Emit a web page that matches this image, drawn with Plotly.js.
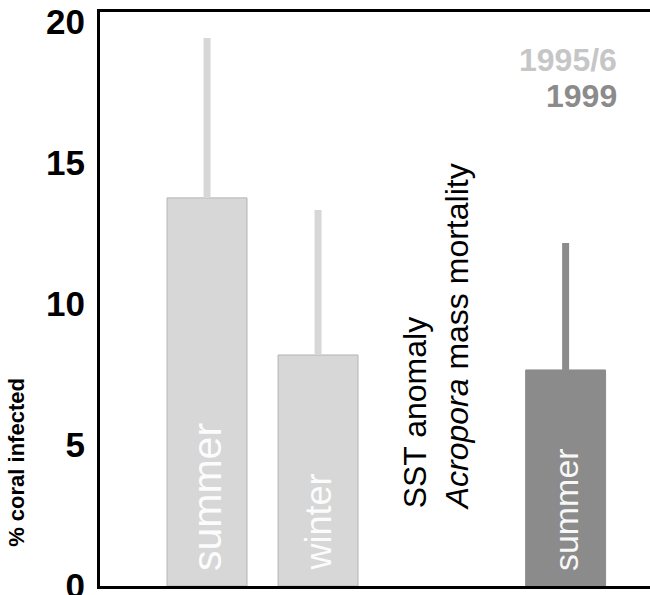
<!DOCTYPE html>
<html><head><meta charset="utf-8">
<script src="https://cdn.plot.ly/plotly-3.0.1.min.js"></script>
<style>html,body{margin:0;padding:0;background:#fff}#chart{width:650px;height:595px}</style>
</head><body><div id="chart"></div>
<script>
// ---- data ----
const periods = ["1995/6", "1995/6", "1999"];
const seasons = ["summer", "winter", "summer"];
const meanInfected = [13.76, 8.19, 7.66];
const errorUpper = [5.67, 5.14, 4.50];
const yTicks = [0, 5, 10, 15, 20];
const seriesNames = ["1995/6", "1999"];
const eventNote = ["SST anomaly", "<i>Acropora</i> mass mortality"];
const yTitle = "% coral infected";

// ---- layout helpers (not data) ----
const slot = [1, 2, 4.23];
const seasonFontSize = [41, 36, 34];
const seriesColor = {"1995/6": "#d7d7d7", "1999": "#8b8b8b"};
const seriesLine = {"1995/6": "#b4b4b4", "1999": "#8b8b8b"};
const seriesText = {"1995/6": "#c6c6c6", "1999": "#8b8b8b"};
const FONT = "Liberation Sans, Arial, Helvetica, sans-serif";

const traces = seriesNames.map(name => {
  const idx = periods.map((p, i) => p === name ? i : -1).filter(i => i >= 0);
  return {
    type: "bar",
    name: name,
    x: idx.map(i => slot[i]),
    y: idx.map(i => meanInfected[i]),
    width: 0.72,
    marker: {color: seriesColor[name], line: {color: seriesLine[name], width: 1}},
    error_y: {type: "data", symmetric: false, array: idx.map(i => errorUpper[i]),
              arrayminus: idx.map(() => 0), width: 0, thickness: 7, color: seriesColor[name]},
    hoverinfo: "skip",
    showlegend: false
  };
});

const annotations = [];
seasons.forEach((s, i) => {
  annotations.push({
    text: s, x: slot[i], y: 0, xref: "x", yref: "y",
    xanchor: "center", yanchor: "bottom", yshift: 13, textangle: -90,
    showarrow: false, font: {family: FONT, size: seasonFontSize[i], color: "rgba(255,255,255,0.95)"}
  });
});
annotations.push({
  text: eventNote.join("<br>"), x: 3.06, y: 2.62, xref: "x", yref: "y",
  xanchor: "center", yanchor: "bottom", textangle: -90, align: "left",
  showarrow: false, font: {family: FONT, size: 32, color: "#000"}
});
annotations.push({
  text: yTitle, xref: "paper", yref: "y", x: -0.151, y: 4.4,
  xanchor: "center", yanchor: "middle", textangle: -90, showarrow: false,
  font: {family: FONT, size: 22, weight: "bold", color: "#000"}
});
const legendY = [0.916, 0.853];
seriesNames.forEach((n, k) => {
  annotations.push({
    text: n, xref: "paper", yref: "paper", x: 0.943, y: legendY[k],
    xanchor: "right", yanchor: "middle", showarrow: false,
    font: {family: FONT, size: 32, weight: "bold", color: seriesText[n]}
  });
});

const layout = {
  width: 650, height: 595,
  margin: {l: 100, r: 0, t: 12, b: 9},
  paper_bgcolor: "#fff", plot_bgcolor: "#fff",
  barmode: "overlay",
  font: {family: FONT, color: "#000"},
  xaxis: {range: [0.036, 4.99], showline: true, linewidth: 3, linecolor: "#000", mirror: true,
          showticklabels: false, ticks: "", showgrid: false, zeroline: false, fixedrange: true},
  yaxis: {range: [0, 20.35], tickvals: yTicks, ticktext: yTicks.map(String),
          showline: true, linewidth: 3, linecolor: "#000", mirror: false,
          ticks: "outside", ticklen: 5, tickcolor: "rgba(0,0,0,0)",
          ticklabeloverflow: "allow",
          tickfont: {family: FONT, size: 35, weight: "bold", color: "#000"},
          showgrid: false, zeroline: false, fixedrange: true},
  annotations: annotations
};

Plotly.newPlot("chart", traces, layout, {displayModeBar: false, staticPlot: true});
</script>
</body></html>
